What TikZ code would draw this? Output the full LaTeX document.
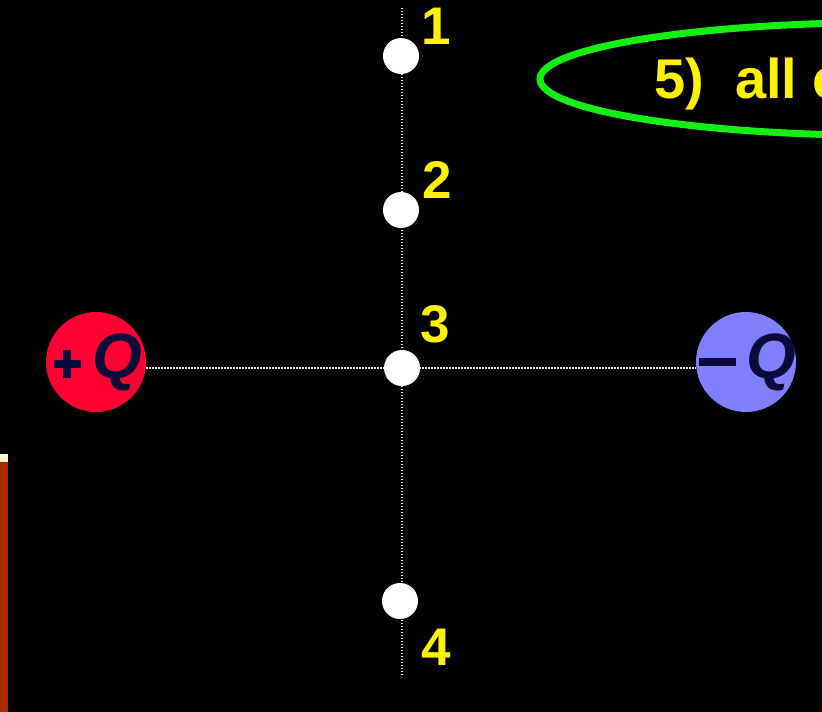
\documentclass[tikz,border=0pt]{standalone}
\usepackage{fontspec}
\setmainfont{Liberation Sans}
\usetikzlibrary{shapes.geometric}
\newcommand{\boldplus}{\rlap{\rule[10pt]{27pt}{8pt}}\hspace{9.5pt}\rule[0pt]{8pt}{28pt}\hspace{9.5pt}}
\begin{document}
\begin{tikzpicture}[x=1pt,y=-1pt,
  dotline/.style={draw=white!90!black,line width=1.4pt,dash pattern=on 1.4pt off 1.6pt},
  spot/.style={circle,fill=white,minimum size=36pt,inner sep=0pt},
  numlab/.style={text=yellow,font=\fontsize{53}{53}\selectfont\bfseries,inner sep=0pt},
  charge/.style={circle,minimum size=100pt,inner sep=0pt,text={rgb,255:red,10;green,10;blue,60},font=\fontsize{64}{64}\selectfont\bfseries}]
\definecolor{posred}{RGB}{255,0,51}
\definecolor{negblue}{RGB}{128,128,255}
\definecolor{ringgreen}{RGB}{20,240,20}
\definecolor{barred}{RGB}{170,40,0}
\definecolor{barcap}{RGB}{255,248,200}
\fill[black] (0,0) rectangle (822,712);
\useasboundingbox (0,0) rectangle (822,712);
\begin{scope}
\clip (0,0) rectangle (822,712);
% left bar
\fill[barred] (0,462) rectangle (8,712);
\fill[barcap] (0,454) rectangle (8,462);
% green ellipse
\node[draw=ringgreen,line width=7pt,ellipse,minimum width=700pt,minimum height=113pt,inner sep=0pt] (ring) at (890,79) {};
\node[text=yellow,font=\fontsize{56}{56}\selectfont\bfseries,anchor=base west,inner sep=0pt] (txt5) at (654,98) {5)~~all c};
\end{scope}
% line end points
\coordinate (vtop) at (402,8);
\coordinate (vbot) at (402,677);
% charges
\node[charge,fill=posred] (pq) at (96,362) {\makebox[0pt]{\hspace{4pt}\boldplus\hspace{12pt}\textit{Q}}};
\node[charge,fill=negblue] (nq) at (746,362) {\makebox[0pt]{\hspace{3pt}\rule[0.19em]{0.58em}{0.13em}\,\textit{Q}}};
% dotted lines
\draw[dotline] (pq.east |- 0,368) -- (nq.west |- 0,368);
\draw[dotline] (vtop) -- (vbot);
% points
\node[spot] (p1) at (401,56) {};
\node[spot] (p2) at (401,210) {};
\node[spot] (p3) at (402,368) {};
\node[spot] (p4) at (400,601) {};
% labels
\node[numlab] (l1) at (436,26) {1};
\node[numlab] (l2) at (437,180) {2};
\node[numlab] (l3) at (435,324) {3};
\node[numlab] (l4) at (436,647) {4};
\end{tikzpicture}
\end{document}
